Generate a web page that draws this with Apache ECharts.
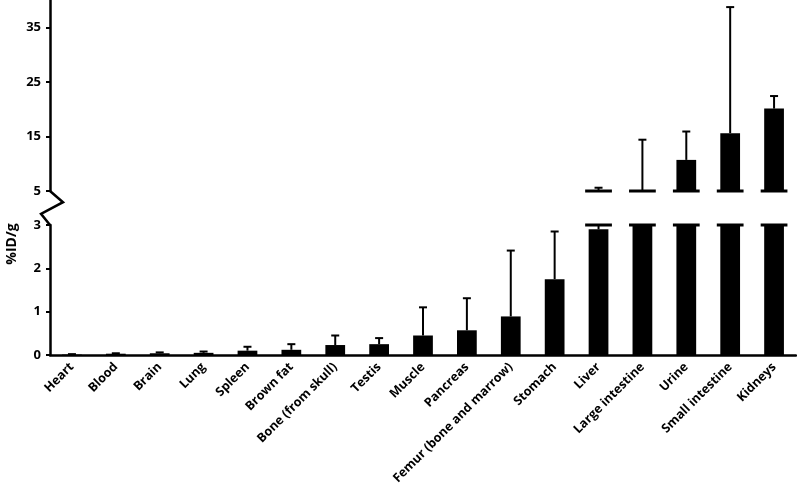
<!DOCTYPE html>
<html>
<head>
<meta charset="utf-8">
<script src="https://cdn.jsdelivr.net/npm/echarts@6/dist/echarts.min.js"></script>
<style>
html, body { margin: 0; padding: 0; background: #fff; }
#chart { width: 797px; height: 493px; }
</style>
</head>
<body>
<div id="chart"></div>
<script>
// organ uptake, mean and one-sided SD (%ID/g)
var organs = ['Heart', 'Blood', 'Brain', 'Lung', 'Spleen', 'Brown fat', 'Bone (from skull)', 'Testis',
    'Muscle', 'Pancreas', 'Femur (bone and marrow)', 'Stomach', 'Liver', 'Large intestine',
    'Urine', 'Small intestine', 'Kidneys'];
var means = [0.01, 0.03, 0.04, 0.05, 0.10, 0.12, 0.23, 0.25, 0.45, 0.57, 0.89, 1.75, 2.9, 4.9, 10.7, 15.6, 20.1];
var sds   = [0.01, 0.01, 0.02, 0.03, 0.09, 0.13, 0.22, 0.14, 0.65, 0.74, 1.52, 1.10, 2.7, 9.5, 5.2, 23.1, 2.3];
var upperTicks = [5, 15, 25, 35];
var lowerTicks = [0, 1, 2, 3];
var breakLow = 3, breakHigh = 5, upperMax = 40;

var rows = means.map(function (m, i) { return [i, m, m + sds[i]]; });
var font = '"Open Sans", sans-serif';

function rect(x, y1, y2, w) {
    return { type: 'rect', shape: { x: x - w / 2, y: Math.min(y1, y2), width: w, height: Math.abs(y2 - y1) }, style: { fill: '#000' } };
}
function vline(x, y1, y2) {
    return { type: 'line', shape: { x1: x, y1: y1, x2: x, y2: y2 }, style: { stroke: '#000', lineWidth: 2 } };
}

// bottom panel 0..3
function lowerItem(params, api) {
    var i = api.value(0), m = api.value(1), t = api.value(2);
    var band = api.size([1, 0])[0];
    var x = api.coord([i, 0])[0];
    var y0 = api.coord([i, 0])[1];
    var kids = [];
    var top = Math.min(m, breakLow);
    if (t > m) {
        var et = Math.min(t, breakLow);
        kids.push(vline(x, api.coord([i, top])[1], api.coord([i, et])[1]));
        if (t <= breakLow) kids.push(rect(x, api.coord([i, t])[1] - 1, api.coord([i, t])[1] + 1, 8));
    }
    kids.push(rect(x, y0, api.coord([i, top])[1], band * 0.45));
    if (t > breakLow) {
        var yb = api.coord([i, breakLow])[1];
        kids.push(rect(x, yb - 1.5, yb + 1.5, band * 0.61));
    }
    return { type: 'group', children: kids };
}

// top panel 5..40
function upperItem(params, api) {
    var i = api.value(0), m = api.value(1), t = api.value(2);
    if (t <= breakHigh) return null;
    var band = api.size([1, 0])[0];
    var x = api.coord([i, breakHigh])[0];
    var yb = api.coord([i, breakHigh])[1];
    var kids = [];
    var start = Math.max(m, breakHigh);
    kids.push(vline(x, api.coord([i, start])[1], api.coord([i, t])[1]));
    kids.push(rect(x, api.coord([i, t])[1] - 1, api.coord([i, t])[1] + 1, 8));
    if (m > breakHigh) kids.push(rect(x, yb, api.coord([i, m])[1], band * 0.45));
    kids.push(rect(x, yb - 1.5, yb + 1.5, band * 0.61));
    return { type: 'group', children: kids };
}

var axisLineStyle = { color: '#000', width: 2.5 };
var yLabel = { color: '#000', fontWeight: 'bold', fontSize: 13, fontFamily: font, margin: 9 };

var option = {
    animation: false,
    grid: [
        { left: 50, right: 1, top: 0, height: 191, outerBoundsMode: 'none' },
        { left: 50, right: 1, top: 225, height: 130, outerBoundsMode: 'none' }
    ],
    xAxis: [
        { gridIndex: 0, type: 'category', data: organs, show: false },
        {
            gridIndex: 1, type: 'category', data: organs,
            axisLine: { lineStyle: axisLineStyle },
            axisTick: { show: false },
            axisLabel: { interval: 0, rotate: 45, color: '#000', fontWeight: 'bold', fontSize: 12.5, fontFamily: font, margin: 10 }
        }
    ],
    yAxis: [
        {
            gridIndex: 0, type: 'value', min: breakHigh, max: upperMax,
            axisLine: { show: true, lineStyle: axisLineStyle },
            axisTick: { show: true, length: 4, customValues: upperTicks, lineStyle: { color: '#000', width: 2 } },
            axisLabel: Object.assign({ customValues: upperTicks }, yLabel),
            splitLine: { show: false }
        },
        {
            gridIndex: 1, type: 'value', min: 0, max: breakLow,
            axisLine: { show: true, lineStyle: axisLineStyle },
            axisTick: { show: true, length: 4, customValues: lowerTicks, lineStyle: { color: '#000', width: 2 } },
            axisLabel: Object.assign({ customValues: lowerTicks }, yLabel),
            splitLine: { show: false }
        }
    ],
    series: [
        { type: 'custom', xAxisIndex: 0, yAxisIndex: 0, data: rows, renderItem: upperItem, encode: { x: 0, y: 1 } },
        { type: 'custom', xAxisIndex: 1, yAxisIndex: 1, data: rows, renderItem: lowerItem, encode: { x: 0, y: 1 } }
    ]
};

var myChart = echarts.init(document.getElementById('chart'));
myChart.setOption(option);

// axis break zigzag and axis title
var ax = myChart.convertToPixel({ xAxisIndex: 1 }, 0) - (myChart.convertToPixel({ xAxisIndex: 1 }, 1) - myChart.convertToPixel({ xAxisIndex: 1 }, 0)) / 2;
var yHi = myChart.convertToPixel({ yAxisIndex: 0 }, breakHigh);
var yLo = myChart.convertToPixel({ yAxisIndex: 1 }, breakLow);
var gap = yLo - yHi;
myChart.setOption({
    graphic: [
        {
            type: 'polyline',
            shape: { points: [[ax, yHi], [ax + 13, yHi + gap * 0.33], [ax - 9, yHi + gap * 0.67], [ax, yLo]] },
            style: { stroke: '#000', lineWidth: 2.5, fill: null }
        },
        {
            type: 'text', x: 12, y: 244, rotation: Math.PI / 2,
            style: { text: '%ID/g', fill: '#000', font: 'bold 14px ' + font, align: 'center', verticalAlign: 'middle' }
        }
    ]
});
</script>
</body>
</html>
